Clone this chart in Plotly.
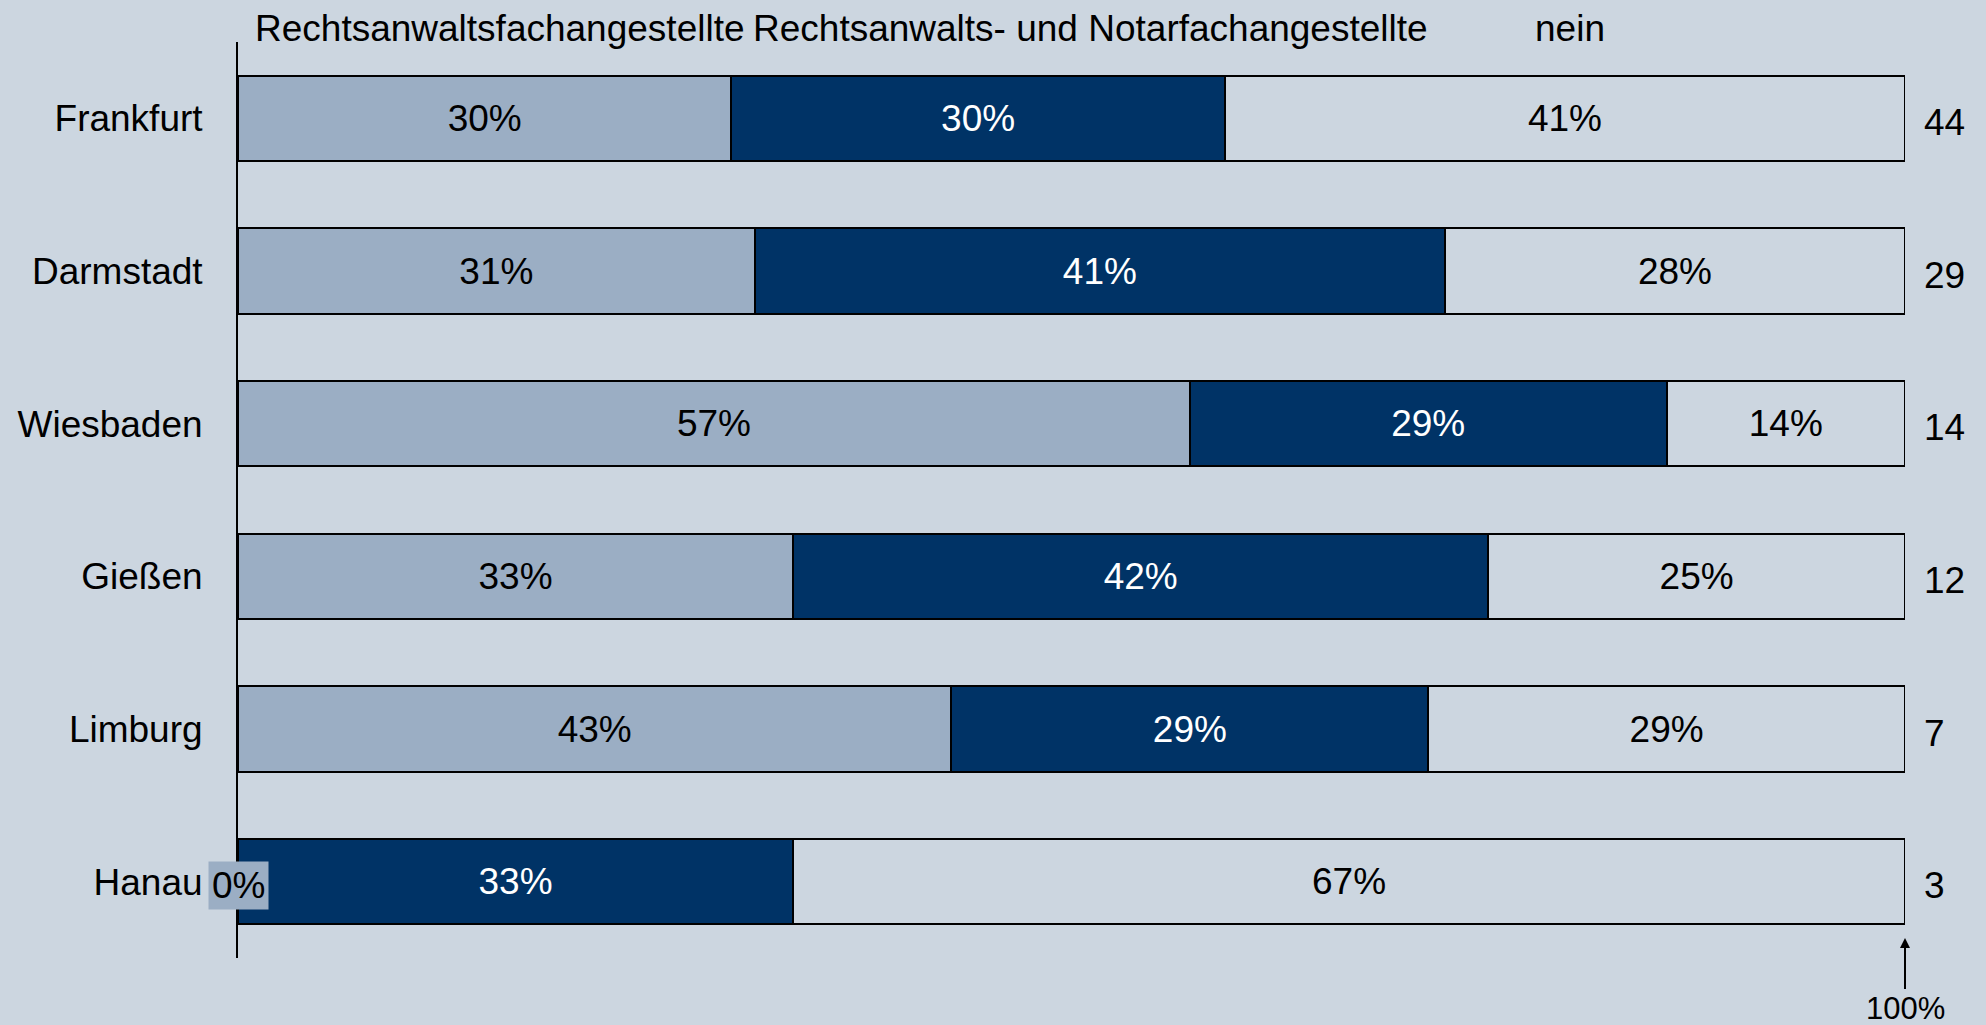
import plotly.graph_objects as go

categories = ["Frankfurt", "Darmstadt", "Wiesbaden", "Gießen", "Limburg", "Hanau"]
n_values = [44, 29, 14, 12, 7, 3]
series_names = ["Rechtsanwaltsfachangestellte", "Rechtsanwalts- und Notarfachangestellte", "nein"]
rafa = [29.6, 31.0, 57.1, 33.3, 42.8, 0.0]
reno = [29.6, 41.4, 28.6, 41.7, 28.6, 33.3]
nein = [40.8, 27.6, 14.3, 25.0, 28.6, 66.7]

BG = "#CCD6E0"
LIGHT = "#9BAEC4"
DARK = "#003366"
FONT = "Liberation Sans, Arial, sans-serif"
FS = 37

fig = go.Figure()
series = [(series_names[0], rafa, LIGHT, "black"),
          (series_names[1], reno, DARK, "white"),
          (series_names[2], nein, BG, "black")]
for name, vals, col, tcol in series:
    fig.add_trace(go.Bar(
        y=categories, x=vals, name=name, orientation="h",
        marker=dict(color=col, line=dict(color="black", width=2)),
        texttemplate="%{x:.0f}%", textposition="inside", insidetextanchor="middle",
        textfont=dict(color=tcol, size=FS, family=FONT), cliponaxis=False,
        width=0.56, showlegend=False,
    ))
    # zero-width segments: label drawn as a small box at the bar start
    for cat, v in zip(categories, vals):
        if v == 0:
            fig.add_annotation(x=0, y=cat, xref="x", yref="y", text="0%", showarrow=False,
                               xanchor="center", yanchor="middle", bgcolor=col, borderpad=3,
                               yshift=-4, font=dict(color=tcol, size=FS, family=FONT))

# legend-like headers
legend_pos = [(0.9, "left"), (30.8, "left"), (79.9, "center")]
for (xp, anc), name in zip(legend_pos, series_names):
    fig.add_annotation(x=xp, y=1.0155, xref="x", yref="paper", text=name, showarrow=False,
                       xanchor=anc, yanchor="middle", yshift=-1,
                       font=dict(color="black", size=FS, family=FONT))

# n values on right
for cat, n in zip(categories, n_values):
    fig.add_annotation(x=1.0102, y=cat, xref="paper", yref="y", text=str(n), showarrow=False,
                       xanchor="left", yanchor="middle", yshift=-4,
                       font=dict(color="black", size=FS, family=FONT))

# 100% arrow
fig.add_annotation(x=100, y=0.0218, xref="x", yref="paper", text="100%", showarrow=True,
                   ax=0, ay=70, arrowhead=2, arrowsize=1, arrowwidth=2, arrowcolor="black",
                   font=dict(color="black", size=31, family=FONT))

fig.update_layout(
    width=1986, height=1025, barmode="stack",
    paper_bgcolor=BG, plot_bgcolor=BG,
    margin=dict(l=238, r=81, t=42, b=67),
    font=dict(family=FONT, size=FS, color="black"),
    xaxis=dict(range=[0, 100], showgrid=False, zeroline=False, showticklabels=False,
               showline=False, fixedrange=True),
    yaxis=dict(categoryorder="array", categoryarray=categories, range=[5.5, -0.5],
               showgrid=False, zeroline=False, showline=True, linecolor="black", linewidth=2,
               ticks="", ticklabelstandoff=26, tickfont=dict(size=FS, family=FONT, color="black")),
)

fig.write_html("out.html", config={"displayModeBar": False},
               post_script="document.body.style.margin='0';document.body.style.background='%s';"
                           "document.body.style.overflow='hidden';" % BG)
